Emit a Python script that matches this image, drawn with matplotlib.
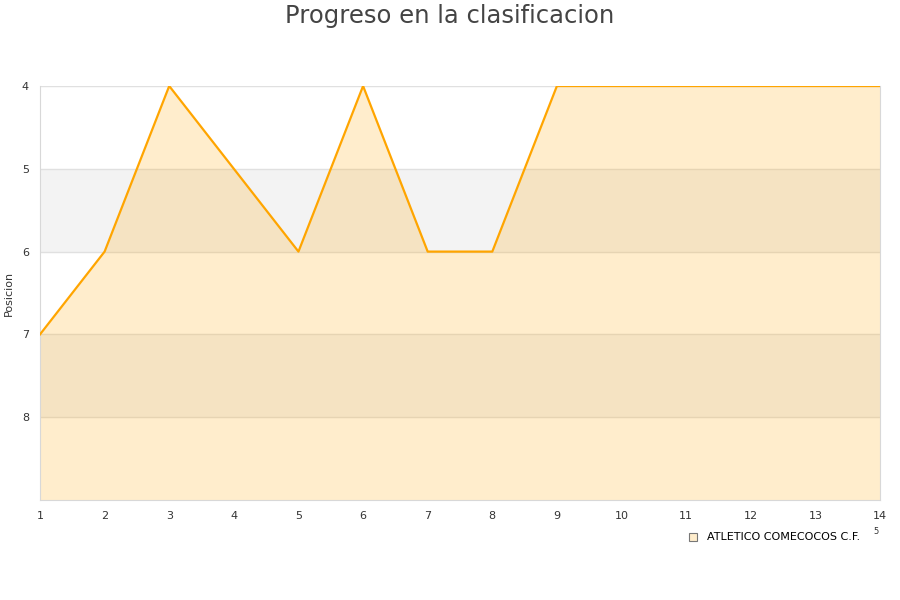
import numpy as np
import matplotlib.pyplot as plt

jornadas = list(range(1, 15))
posicion = [7, 6, 4, 5, 6, 4, 6, 6, 4, 4, 4, 4, 4, 4]
equipo = "ATLETICO COMECOCOS C.F."
naranja = "#ffa500"

fig = plt.figure(figsize=(9, 6), dpi=100)
ax = fig.add_axes([40 / 900, 100 / 600, 840 / 900, 414 / 600])

# bandas alternas
for y0 in [5, 7]:
    ax.axhspan(y0, y0 + 1, color="#f3f3f3", zorder=0, lw=0)
for y in [4, 5, 6, 7, 8]:
    ax.axhline(y, color="#e0e0e0", lw=1, zorder=1)

ax.fill_between(jornadas, posicion, 9, color=naranja, alpha=0.2, lw=0, zorder=2)
ax.plot(jornadas, posicion, color=naranja, lw=1.6, zorder=3)

ax.set_xlim(1, 14)
ax.set_ylim(9, 4)
ax.set_xticks(jornadas)
ax.set_yticks([4, 5, 6, 7, 8])
ax.tick_params(length=0, labelsize=8, colors="#333333", pad=8)
ax.tick_params(axis="y", pad=8)
for s in ax.spines.values():
    s.set_color("#d8d8d8")
ax.spines["top"].set_visible(False)
ax.set_ylabel("Posicion", fontsize=8, color="#333333")
ax.yaxis.set_label_coords(-26 / 840, 0.5)

fig.text(0.5, 1 - 16 / 600, "Progreso en la clasificacion", ha="center", va="center",
         fontsize=17.5, color="#444444")

# leyenda
fig.patches.append(plt.Rectangle((689 / 900, 1 - 541 / 600), 8 / 900, 8 / 600,
                                 transform=fig.transFigure, facecolor="#ffedcc",
                                 edgecolor="#777777", lw=0.8))
fig.text(707 / 900, 1 - 537 / 600, equipo, fontsize=8, va="center", color="#000000")
fig.text(873 / 900, 1 - 532 / 600, "5", fontsize=6, va="center", color="#333333")

fig.savefig("out.png")
